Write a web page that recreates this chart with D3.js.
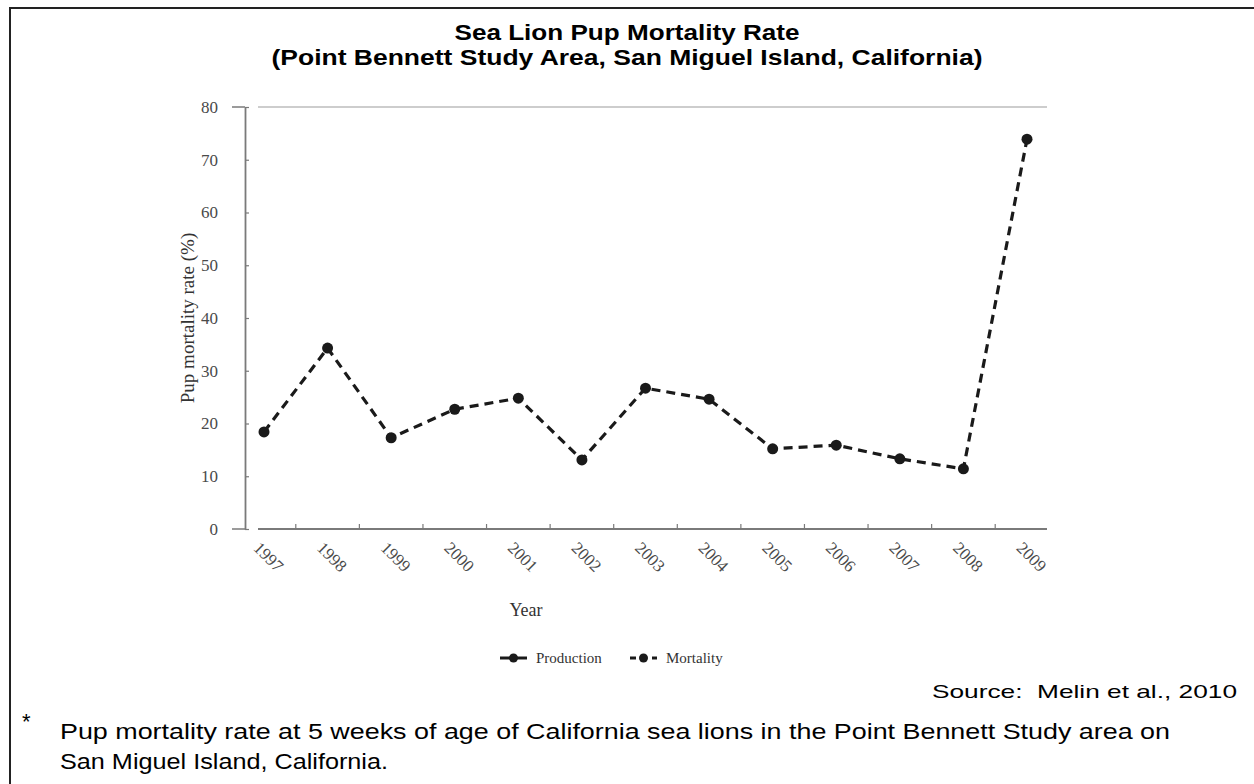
<!DOCTYPE html>
<html>
<head>
<meta charset="utf-8">
<script src="https://cdn.jsdelivr.net/npm/d3@7"></script>
<style>
  html, body { margin: 0; padding: 0; background: #fff; }
  svg { display: block; }
</style>
</head>
<body>
<svg id="chart" width="1254" height="784"></svg>
<script>
const years = ["1997","1998","1999","2000","2001","2002","2003","2004","2005","2006","2007","2008","2009"];
const mortality = [18.4, 34.3, 17.3, 22.7, 24.8, 13.1, 26.7, 24.6, 15.2, 15.9, 13.3, 11.4, 73.9];
const yTicks = [0, 10, 20, 30, 40, 50, 60, 70, 80];
const titleLines = ["Sea Lion Pup Mortality Rate", "(Point Bennett Study Area, San Miguel Island, California)"];
const legendItems = ["Production", "Mortality"];
const footnoteLines = ["Pup mortality rate at 5 weeks of age of California sea lions in the Point Bennett Study area on", "San Miguel Island, California."];
const sourceText = "Source:  Melin et al., 2010";

const svg = d3.select("#chart");
const serif = "'Liberation Serif', 'DejaVu Serif', serif";
const sans = "'Liberation Sans', Arial, sans-serif";

// frame
svg.append("path").attr("d", "M10,784 L10,8 L1254,8").attr("fill", "none").attr("stroke", "#222").attr("stroke-width", 2);

// title
const titleWidths = [345, 711];
svg.selectAll("text.title").data(titleLines).join("text")
  .attr("class", "title")
  .attr("x", 627).attr("y", (d, i) => 40 + i * 25)
  .attr("text-anchor", "middle")
  .attr("font-family", sans).attr("font-weight", "bold").attr("font-size", 22)
  .attr("textLength", (d, i) => titleWidths[i]).attr("lengthAdjust", "spacingAndGlyphs")
  .attr("fill", "#000")
  .text(d => d);

// scales
const x = d3.scalePoint().domain(years).range([264, 1027]);
const y = d3.scaleLinear().domain([0, 80]).range([529, 107]);
const step = x.step();

const axisColor = "#7a7a7a";

// top line at 80
svg.append("line").attr("x1", 258).attr("x2", 1047).attr("y1", y(80)).attr("y2", y(80))
  .attr("stroke", "#bdbdbd").attr("stroke-width", 1.6);

// y axis
const yAxis = svg.append("g").attr("transform", "translate(245,0)")
  .call(d3.axisLeft(y).tickValues(yTicks).tickSizeInner(-4).tickSizeOuter(0).tickPadding(27));
yAxis.select(".domain").attr("stroke", axisColor).attr("stroke-width", 1.8);
yAxis.selectAll(".tick line").attr("stroke", axisColor).attr("stroke-width", 1.2);
yAxis.selectAll(".tick text").attr("font-family", serif).attr("font-size", 17).attr("fill", "#4a4a4a");
// outer ticks at 0 and 80
svg.selectAll("line.outer").data([0, 80]).join("line").attr("class", "outer")
  .attr("x1", 232).attr("x2", 245).attr("y1", d => y(d)).attr("y2", d => y(d))
  .attr("stroke", axisColor).attr("stroke-width", 1.5);

// x axis
svg.append("line").attr("x1", 258).attr("x2", 1047).attr("y1", y(0)).attr("y2", y(0))
  .attr("stroke", axisColor).attr("stroke-width", 1.8);
const xAxis = svg.append("g").attr("transform", `translate(0,${y(0)})`)
  .call(d3.axisBottom(x).tickSize(0).tickPadding(0));
xAxis.select(".domain").remove();
xAxis.selectAll(".tick text")
  .attr("font-family", serif).attr("font-size", 17).attr("fill", "#4a4a4a")
  .attr("text-anchor", "start")
  .attr("dy", null).attr("y", 0).attr("x", 0)
  .attr("transform", "translate(-12,20) rotate(45)");
// boundary ticks
svg.selectAll("line.xb").data(years.slice(1)).join("line").attr("class", "xb")
  .attr("x1", d => x(d) - step / 2).attr("x2", d => x(d) - step / 2)
  .attr("y1", y(0)).attr("y2", y(0) - 5)
  .attr("stroke", axisColor).attr("stroke-width", 1.2);

// axis titles
svg.append("text").attr("transform", `translate(194,${(y(0) + y(80)) / 2}) rotate(-90)`)
  .attr("text-anchor", "middle").attr("font-family", serif).attr("font-size", 19).attr("fill", "#333")
  .text("Pup mortality rate (%)");
svg.append("text").attr("x", 526).attr("y", 616).attr("text-anchor", "middle")
  .attr("font-family", serif).attr("font-size", 18).attr("fill", "#333").text("Year");

// series
const pts = years.map((d, i) => [x(d), y(mortality[i])]);
svg.append("path").attr("d", d3.line()(pts)).attr("fill", "none")
  .attr("stroke", "#1a1a1a").attr("stroke-width", 3.2).attr("stroke-dasharray", "9,6");
svg.selectAll("circle.pt").data(pts).join("circle").attr("class", "pt")
  .attr("cx", d => d[0]).attr("cy", d => d[1]).attr("r", 5.5).attr("fill", "#1a1a1a");

// legend
const lg = svg.append("g");
const legendX = [500, 630];
legendItems.forEach((name, i) => {
  const lx = legendX[i];
  lg.append("line").attr("x1", lx).attr("x2", lx + 27).attr("y1", 658).attr("y2", 658)
    .attr("stroke", "#1a1a1a").attr("stroke-width", 3)
    .attr("stroke-dasharray", i === 1 ? "6,5" : null);
  lg.append("circle").attr("cx", lx + 13.5).attr("cy", 658).attr("r", 4.5).attr("fill", "#1a1a1a");
  lg.append("text").attr("x", lx + 36).attr("y", 663)
    .attr("font-family", serif).attr("font-size", 15).attr("fill", "#333").text(name);
});

// source
svg.append("text").attr("x", 1237).attr("y", 698).attr("text-anchor", "end")
  .attr("font-family", sans).attr("font-size", 19).attr("fill", "#000")
  .attr("textLength", 305).attr("lengthAdjust", "spacingAndGlyphs")
  .style("white-space", "pre").text(sourceText);

// footnote
svg.append("text").attr("x", 22).attr("y", 729).attr("font-family", sans).attr("font-size", 22).attr("fill", "#000").text("*");
const footWidths = [1110, 328];
svg.selectAll("text.foot").data(footnoteLines).join("text").attr("class", "foot")
  .attr("x", 60).attr("y", (d, i) => 739 + i * 30)
  .attr("font-family", sans).attr("font-size", 22).attr("fill", "#000")
  .attr("textLength", (d, i) => footWidths[i]).attr("lengthAdjust", "spacingAndGlyphs")
  .text(d => d);
</script>
</body>
</html>
